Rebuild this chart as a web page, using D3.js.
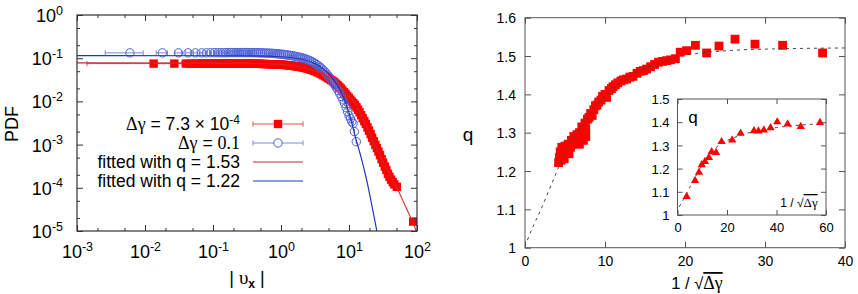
<!DOCTYPE html>
<html><head><meta charset="utf-8">
<script src="https://cdn.jsdelivr.net/npm/d3@7/dist/d3.min.js"></script>
<style>
body{margin:0;background:#fff}
svg{display:block}
text{font-family:"Liberation Sans",Arial,Helvetica,sans-serif;fill:#000}
</style>
</head><body>
<svg id="chart" width="858" height="294"></svg>
<script>
// ---------------- DATA (left panel: PDF of |v_x|) ----------------
const pdfXMajor = [1e-3, 1e-2, 1e-1, 1, 1e1, 1e2];
const pdfXMinor = [2e-3,5e-3,2e-2,5e-2,2e-1,5e-1,2,5,20,50];
const pdfYMajor = [1e-5, 1e-4, 1e-3, 1e-2, 1e-1, 1];
const pdfYMinor = [2e-5,5e-5,2e-4,5e-4,2e-3,5e-3,2e-2,5e-2,2e-1,5e-1];

// Δγ = 7.3e-4  [|v_x|, PDF]
const redData = [
 [0.0134,0.075],[0.027,0.075],[0.040,0.075],[0.047,0.075],[0.053,0.075],[0.060,0.075],[0.067,0.075],[0.073,0.075],
 [0.080,0.075],[0.087,0.075],[0.093,0.075],[0.10,0.075],[0.107,0.075],[0.113,0.075],[0.12,0.075],[0.127,0.075],
 [0.133,0.075],[0.14,0.075],[0.15,0.075],[0.16,0.075],[0.17,0.075],[0.18,0.075],[0.19,0.075],[0.20,0.075],
 [0.215,0.075],[0.23,0.075],[0.245,0.075],[0.26,0.075],[0.28,0.075],[0.30,0.075],[0.32,0.075],[0.34,0.075],
 [0.36,0.075],[0.38,0.0748],[0.40,0.0745],[0.43,0.0743],[0.46,0.0742],[0.49,0.074],[0.52,0.0738],[0.55,0.0735],
 [0.59,0.0732],[0.63,0.073],[0.67,0.0728],[0.71,0.0725],[0.75,0.0722],[0.80,0.072],[0.85,0.0717],[0.90,0.0714],
 [0.95,0.0712],[1.0,0.071],[1.06,0.0705],[1.12,0.07],[1.18,0.0695],[1.25,0.0688],[1.32,0.068],[1.4,0.0673],
 [1.48,0.0666],[1.56,0.066],[1.65,0.0652],[1.75,0.0643],[1.85,0.0635],[1.95,0.0626],[2.05,0.0615],[2.17,0.0603],
 [2.3,0.059],[2.43,0.0577],[2.57,0.0563],[2.72,0.0548],[2.87,0.0533],[3.03,0.0517],[3.2,0.05],[3.38,0.0482],
 [3.57,0.0464],[3.77,0.0445],[3.98,0.0425],[4.2,0.0405],[4.43,0.0385],[4.68,0.0365],[4.94,0.0345],[5.2,0.0328],
 [5.5,0.031],[5.8,0.0292],[6.1,0.0275],[6.45,0.0255],[6.8,0.0236],[7.2,0.0216],[7.6,0.0198],[8.0,0.018],
 [8.45,0.0163],[8.9,0.0148],[9.4,0.0133],[9.9,0.0122],[10.45,0.011],[11.0,0.0099],[11.6,0.0091],[12.2,0.0083],
 [12.9,0.0073],[13.6,0.0064],[14.3,0.0056],[15.1,0.0048],[15.9,0.0041],[16.8,0.0035],[17.7,0.003],[18.7,0.0025],
 [19.7,0.0021],[20.8,0.00175],[21.9,0.00145],[23.1,0.0012],[24.4,0.00099],[25.7,0.00083],[27.1,0.00069],[28.6,0.00057],
 [30.2,0.00046],[31.8,0.00038],[33.6,0.00031],[35.4,0.00026],[37.4,0.00021],[39.4,0.00018],[41.6,0.000155],[44.0,0.000135],
 [46.5,0.00012],[50.5,0.000105],[88,0.0000165]
];
const redErr = 0.012;

// Δγ = 0.1  [|v_x|, PDF]
const blueData = [
 [0.006,0.133],[0.018,0.133],[0.031,0.133],[0.043,0.133],[0.055,0.133],[0.068,0.133],[0.080,0.133],[0.092,0.134],
 [0.105,0.134],[0.117,0.134],[0.13,0.134],[0.142,0.134],[0.155,0.134],[0.167,0.135],[0.18,0.135],[0.195,0.135],
 [0.21,0.135],[0.225,0.135],[0.24,0.135],[0.26,0.135],[0.28,0.135],[0.30,0.135],[0.32,0.135],[0.34,0.135],
 [0.36,0.1348],[0.38,0.1346],[0.41,0.1343],[0.44,0.134],[0.47,0.1336],[0.50,0.1332],[0.53,0.1328],[0.57,0.1323],
 [0.61,0.1317],[0.65,0.131],[0.69,0.1303],[0.74,0.1295],[0.79,0.1285],[0.84,0.1275],[0.90,0.1263],[0.96,0.125],
 [1.02,0.1237],[1.09,0.1222],[1.16,0.1207],[1.24,0.119],[1.32,0.1172],[1.41,0.1152],[1.5,0.1132],[1.6,0.1112],
 [1.7,0.109],[1.81,0.1068],[1.93,0.1043],[2.05,0.1017],[2.18,0.0988],[2.32,0.0957],[2.47,0.0922],[2.63,0.0885],
 [2.8,0.0845],[2.98,0.0802],[3.17,0.0757],[3.37,0.071],[3.58,0.0662],[3.8,0.0613],[4.04,0.0562],[4.29,0.051],
 [4.56,0.046],[4.84,0.041],[5.14,0.0363],[5.45,0.032],[5.78,0.028],[6.13,0.0243],[6.5,0.021],[6.88,0.018],
 [7.28,0.0154],[7.7,0.013],[8.13,0.0109],[8.58,0.009],[9.05,0.0072],[9.53,0.0058],[10.0,0.0047],[10.5,0.004],
 [11.0,0.0034],[11.5,0.0031],[12.0,0.002],[12.8,0.00117]
];
const blueErr = 0.0034;

// fitted q-Gaussians (traced)
const redFit = [[0.001,0.078],[0.3,0.077],[1,0.072],[2,0.062],[3,0.053],[4,0.044],[5,0.037],[6,0.030],[8,0.020],[10,0.013],
  [12.2,0.0095],[15,0.005],[19,0.0022],[24,0.001],[30,0.00048],[40,0.0002],[50,0.000105],[70,0.000033],[90,0.000014],[100,0.000009]];
const blueFit = [[0.001,0.115],[0.3,0.114],[1,0.108],[2,0.095],[3,0.078],[4,0.06],[5,0.044],[6,0.031],[7,0.021],[8,0.014],
  [10,0.0055],[12.9,0.0012],[15,0.00052],[18.2,0.00015],[22,0.000035],[25.6,0.00001],[27,0.000006]];

const legendLabels = ["fitted with q = 1.53", "fitted with q = 1.22"];

// ---------------- DATA (right panel: q vs 1/sqrt(Δγ)) ----------------
const qXTicks = [0,10,20,30,40];
const qYTicks = [1,1.1,1.2,1.3,1.4,1.5,1.6];
const qX = [4.2,4.3,4.4,4.5,4.6,4.7,4.8,4.9,5.0,5.1,5.3,5.4,5.5,5.7,5.8,6.0,6.1,6.3,6.5,6.6,6.8,6.8,7.0,7.1,7.3,7.3,7.5,7.6,7.6,7.8,8.0,8.2,8.4,8.6,8.8,9.0,9.2,9.5,9.7,10.0,10.2,10.5,10.8,11.0,11.3,11.6,12.0,12.3,12.7,13.1,13.5,14.0,14.4,14.8,15.2,15.7,16.2,16.7,17.2,17.7,18.2,18.8,19.4,20.2,21.3,22.7,24.25,26.25,28.75,32.2,37.2];
const qY = [1.222,1.235,1.25,1.228,1.262,1.24,1.255,1.232,1.265,1.248,1.258,1.27,1.245,1.262,1.28,1.27,1.29,1.278,1.295,1.285,1.3,1.27,1.29,1.315,1.305,1.28,1.325,1.31,1.29,1.335,1.34,1.35,1.345,1.36,1.37,1.372,1.38,1.385,1.395,1.4,1.392,1.41,1.415,1.42,1.425,1.43,1.435,1.438,1.44,1.445,1.447,1.455,1.46,1.462,1.466,1.472,1.478,1.484,1.486,1.488,1.49,1.493,1.510,1.514,1.528,1.508,1.526,1.544,1.531,1.528,1.508];
const qFitX = [0.3,1,2,3,4.2,5,6,7,8,9,10,11,12,13,14,15,16,17,18,19,20,22,24,26,28,30,32,35,40];
const qFitY = [1.02,1.055,1.10,1.15,1.21,1.25,1.285,1.315,1.345,1.372,1.395,1.415,1.432,1.446,1.458,1.468,1.476,1.484,1.49,1.497,1.502,1.508,1.512,1.515,1.517,1.518,1.519,1.52,1.521];

// inset
const inXTicks = [0,20,40,60];
const inYTicks = [1,1.1,1.2,1.3,1.4,1.5];
const inX = [3.7,7.1,8.7,9.8,11.1,12.7,13.8,15.6,17.8,22.1,25.5,30.9,32.7,34.9,37.6,40.3,44.5,49.8,57.6];
const inY = [1.079,1.148,1.184,1.216,1.230,1.247,1.272,1.269,1.316,1.323,1.352,1.363,1.362,1.366,1.376,1.401,1.392,1.381,1.398];
const inFitX = [0.7,3,5,7,9,11,13,15,17,19,22,25,28,32,36,40,45,50,58];
const inFitY = [1.035,1.08,1.12,1.16,1.2,1.235,1.262,1.285,1.303,1.316,1.33,1.342,1.352,1.362,1.37,1.377,1.383,1.388,1.393];

// ---------------- DRAW ----------------
const svg = d3.select("#chart");
svg.append("rect").attr("width",858).attr("height",294).attr("fill","#fff");

const RED = "#ff0000", REDLINE = "#cc2a2a", REDERR = "#dd5555";
const BLUE = "#4d62d8", BLUELINE = "#2233bb", BLUEERR = "#7a88dd";
const SERIF = "'Liberation Serif','DejaVu Serif',serif";

function zip(a,b){ return a.map((v,i)=>[v,b[i]]); }

// ===== Left panel =====
const L = {l:77, r:417, t:15, b:231};
const xL = d3.scaleLog().domain([1e-3,1e2]).range([L.l,L.r]);
const yL = d3.scaleLog().domain([1e-5,1]).range([L.b,L.t]);

svg.append("clipPath").attr("id","clipL").append("rect")
  .attr("x",L.l).attr("y",L.t).attr("width",L.r-L.l).attr("height",L.b-L.t);

function logAxes(){
  const col = "#333";
  const gB = svg.append("g").attr("transform",`translate(0,${L.b})`);
  gB.call(d3.axisBottom(xL).tickValues(pdfXMajor).tickSize(-6).tickFormat(""));
  gB.append("g").call(d3.axisBottom(xL).tickValues(pdfXMinor).tickSize(-3).tickFormat(""));
  const gT = svg.append("g").attr("transform",`translate(0,${L.t})`);
  gT.call(d3.axisTop(xL).tickValues(pdfXMajor).tickSize(-6).tickFormat(""));
  gT.append("g").call(d3.axisTop(xL).tickValues(pdfXMinor).tickSize(-3).tickFormat(""));
  const gLft = svg.append("g").attr("transform",`translate(${L.l},0)`);
  gLft.call(d3.axisLeft(yL).tickValues(pdfYMajor).tickSize(-6).tickFormat(""));
  gLft.append("g").call(d3.axisLeft(yL).tickValues(pdfYMinor).tickSize(-3).tickFormat(""));
  const gR = svg.append("g").attr("transform",`translate(${L.r},0)`);
  gR.call(d3.axisRight(yL).tickValues(pdfYMajor).tickSize(-6).tickFormat(""));
  gR.append("g").call(d3.axisRight(yL).tickValues(pdfYMinor).tickSize(-3).tickFormat(""));
  [gB,gT,gLft,gR].forEach(g=>{
    g.selectAll(".domain").remove();
    g.selectAll("line").attr("stroke",col);
  });
  gB.selectAll(".tick").filter(d=>pdfXMajor.includes(d)).each(function(d){
    const t = d3.select(this).append("text").attr("y",27).attr("text-anchor","middle")
      .style("font-size","18px").attr("fill","#000");
    t.append("tspan").text("10");
    t.append("tspan").attr("dy","-7.5").style("font-size","12.5px").text(Math.round(Math.log10(d)));
  });
  gLft.selectAll(".tick").filter(d=>pdfYMajor.includes(d)).each(function(d){
    const t = d3.select(this).append("text").attr("x",-14).attr("y",6.5).attr("text-anchor","end")
      .style("font-size","18px").attr("fill","#000");
    t.append("tspan").text("10");
    t.append("tspan").attr("dy","-7.5").style("font-size","12.5px").text(Math.round(Math.log10(d)));
  });
  svg.append("rect").attr("x",L.l).attr("y",L.t).attr("width",L.r-L.l).attr("height",L.b-L.t)
    .attr("fill","none").attr("stroke",col).attr("stroke-width",1.2);
}

const plotL = svg.append("g").attr("clip-path","url(#clipL)");
function errBars(g, pts, err, color){
  pts.forEach(([x,y])=>{
    const lo = Math.max(x-err, 1e-4), hi = x+err;
    const yy = yL(y);
    g.append("line").attr("x1",xL(lo)).attr("x2",xL(hi)).attr("y1",yy).attr("y2",yy)
      .attr("stroke",color).attr("stroke-width",1);
    [lo,hi].forEach(v=>g.append("line").attr("x1",xL(v)).attr("x2",xL(v)).attr("y1",yy-2.5).attr("y2",yy+2.5)
      .attr("stroke",color).attr("stroke-width",1));
  });
}
errBars(plotL.append("g"), redData, redErr, REDERR);
plotL.append("g").selectAll("rect").data(redData).join("rect")
  .attr("x",d=>xL(d[0])-4.2).attr("y",d=>yL(d[1])-4.2).attr("width",8.4).attr("height",8.4)
  .attr("fill",RED);
errBars(plotL.append("g"), blueData, blueErr, BLUEERR);
plotL.append("g").selectAll("circle").data(blueData).join("circle")
  .attr("cx",d=>xL(d[0])).attr("cy",d=>yL(d[1])).attr("r",4.2)
  .attr("fill","none").attr("stroke",BLUE).attr("stroke-width",1);

const lineL = d3.line().x(d=>xL(d[0])).y(d=>yL(d[1])).curve(d3.curveMonotoneX);
plotL.append("path").datum(redFit).attr("d",lineL)
  .attr("fill","none").attr("stroke",REDLINE).attr("stroke-width",1.1);
plotL.append("path").datum(blueFit).attr("d",lineL)
  .attr("fill","none").attr("stroke",BLUELINE).attr("stroke-width",1.2);

logAxes();

// legend
const leg = svg.append("g");
const legY = [124,143,162,181];
const LFS = "17.5px";
let t1 = leg.append("text").attr("x",240).attr("y",legY[0]+6).attr("text-anchor","end").style("font-size",LFS);
t1.append("tspan").style("font-family",SERIF).style("font-size","18px").text("Δγ");
t1.append("tspan").text(" = 7.3 × 10");
t1.append("tspan").attr("dy","-6.5").style("font-size","12px").text("-4");
let t2 = leg.append("text").attr("x",240).attr("y",legY[1]+6).attr("text-anchor","end").style("font-size",LFS);
t2.append("tspan").style("font-family",SERIF).style("font-size","18px").text("Δγ");
t2.append("tspan").text(" = ");
t2.append("tspan").style("font-family",SERIF).style("font-size","18px").text("0.1");
leg.append("text").attr("x",240).attr("y",legY[2]+6).attr("text-anchor","end").style("font-size",LFS).text(legendLabels[0]);
leg.append("text").attr("x",240).attr("y",legY[3]+6).attr("text-anchor","end").style("font-size",LFS).text(legendLabels[1]);
function legErr(y,color){
  leg.append("line").attr("x1",253).attr("x2",303).attr("y1",y).attr("y2",y).attr("stroke",color);
  [253,303].forEach(x=>leg.append("line").attr("x1",x).attr("x2",x).attr("y1",y-2.5).attr("y2",y+2.5).attr("stroke",color));
}
legErr(legY[0],REDERR);
leg.append("rect").attr("x",278-4.2).attr("y",legY[0]-4.2).attr("width",8.4).attr("height",8.4).attr("fill",RED);
legErr(legY[1],BLUEERR);
leg.append("circle").attr("cx",278).attr("cy",legY[1]).attr("r",4.2).attr("fill","#fff").attr("stroke",BLUE);
leg.append("line").attr("x1",253).attr("x2",303).attr("y1",legY[2]).attr("y2",legY[2]).attr("stroke",REDLINE).attr("stroke-width",1.1);
leg.append("line").attr("x1",253).attr("x2",303).attr("y1",legY[3]).attr("y2",legY[3]).attr("stroke",BLUELINE).attr("stroke-width",1.2);

// axis titles
svg.append("text").attr("transform","translate(18,124) rotate(-90)").attr("text-anchor","middle")
  .style("font-size","18px").text("PDF");
const xt = svg.append("text").attr("x",247).attr("y",284).attr("text-anchor","middle").style("font-size","18px");
xt.append("tspan").text("| ");
xt.append("tspan").style("font-family",SERIF).style("font-size","19px").text("υ");
xt.append("tspan").attr("dy",4).style("font-size","12px").style("font-weight","bold").text("x");
xt.append("tspan").attr("dy",-4).text(" |");

// ===== Right panel =====
const R = {l:525, r:845, t:17.7, b:247.7};
const xR = d3.scaleLinear().domain([0,40]).range([R.l,R.r]);
const yR = d3.scaleLinear().domain([1,1.6]).range([R.b,R.t]);
const RCOL = "#555";

function linAxes(xs, ys, box, xT, yT, opt){
  const gB = svg.append("g").attr("transform",`translate(0,${box.b})`)
    .call(d3.axisBottom(xs).tickValues(xT).tickSize(-opt.tick).tickFormat(""));
  const gT = svg.append("g").attr("transform",`translate(0,${box.t})`)
    .call(d3.axisTop(xs).tickValues(xT).tickSize(-opt.tick).tickFormat(""));
  const gLf = svg.append("g").attr("transform",`translate(${box.l},0)`)
    .call(d3.axisLeft(ys).tickValues(yT).tickSize(-opt.tick).tickFormat(""));
  const gRt = svg.append("g").attr("transform",`translate(${box.r},0)`)
    .call(d3.axisRight(ys).tickValues(yT).tickSize(-opt.tick).tickFormat(""));
  [gB,gT,gLf,gRt].forEach(g=>{ g.selectAll(".domain").remove(); g.selectAll("line").attr("stroke",opt.col); });
  gB.selectAll(".tick").append("text").attr("y",opt.xLabY).attr("text-anchor","middle")
    .style("font-size",opt.fs).attr("fill","#000").text(d=>d3.format("")(d));
  gLf.selectAll(".tick").append("text").attr("x",opt.yLabX).attr("y",opt.fsN*0.36).attr("text-anchor","end")
    .style("font-size",opt.fs).attr("fill","#000").text(d=>d3.format("")(+d.toFixed(1)));
  svg.append("rect").attr("x",box.l).attr("y",box.t).attr("width",box.r-box.l).attr("height",box.b-box.t)
    .attr("fill","none").attr("stroke",opt.col).attr("stroke-width",1);
}

svg.append("clipPath").attr("id","clipR").append("rect")
  .attr("x",R.l).attr("y",R.t).attr("width",R.r-R.l).attr("height",R.b-R.t);
const plotR = svg.append("g").attr("clip-path","url(#clipR)");
const lineR = d3.line().x(d=>xR(d[0])).y(d=>yR(d[1])).curve(d3.curveMonotoneX);
plotR.append("g").selectAll("rect").data(zip(qX,qY)).join("rect")
  .attr("x",d=>xR(d[0])-4.4).attr("y",d=>yR(d[1])-4.4).attr("width",8.8).attr("height",8.8).attr("fill",RED);
plotR.append("path").datum(zip(qFitX,qFitY)).attr("d",lineR)
  .attr("fill","none").attr("stroke","#444").attr("stroke-width",1).attr("stroke-dasharray","3,4");
linAxes(xR,yR,R,qXTicks,qYTicks,{tick:6,col:RCOL,xLabY:18,yLabX:-9,fs:"14px",fsN:14});

svg.append("text").attr("x",468).attr("y",141).attr("text-anchor","middle").style("font-size","19px").text("q");
function sqrtLabel(x,y,fs){
  const t = svg.append("text").attr("x",x).attr("y",y).attr("text-anchor","middle").style("font-size",fs+"px");
  t.append("tspan").text("1 / √");
  t.append("tspan").style("text-decoration","overline").style("font-family",SERIF).style("font-size",(fs*1.08)+"px").text("Δγ");
  return t;
}
sqrtLabel(697,289,16.5);

// ===== Inset =====
const I = {l:677.5, r:826, t:99, b:215};
const xI = d3.scaleLinear().domain([0,60]).range([I.l,I.r]);
const yI = d3.scaleLinear().domain([1,1.5]).range([I.b,I.t]);
svg.append("rect").attr("x",I.l).attr("y",I.t).attr("width",I.r-I.l).attr("height",I.b-I.t).attr("fill","#fff");
const lineI = d3.line().x(d=>xI(d[0])).y(d=>yI(d[1])).curve(d3.curveMonotoneX);
svg.append("path").datum(zip(inFitX,inFitY)).attr("d",lineI)
  .attr("fill","none").attr("stroke","#444").attr("stroke-width",1).attr("stroke-dasharray","3,4");
const tri = d3.symbol().type(d3.symbolTriangle).size(30);
svg.append("g").selectAll("path").data(zip(inX,inY)).join("path")
  .attr("transform",d=>`translate(${xI(d[0])},${yI(d[1])})`).attr("d",tri).attr("fill",RED);
linAxes(xI,yI,I,inXTicks,inYTicks,{tick:5,col:RCOL,xLabY:16.5,yLabX:-8,fs:"13px",fsN:13});
svg.append("text").attr("x",693).attr("y",123).attr("text-anchor","middle").style("font-size","17px").text("q");
sqrtLabel(799,207,12);
</script>
</body></html>
